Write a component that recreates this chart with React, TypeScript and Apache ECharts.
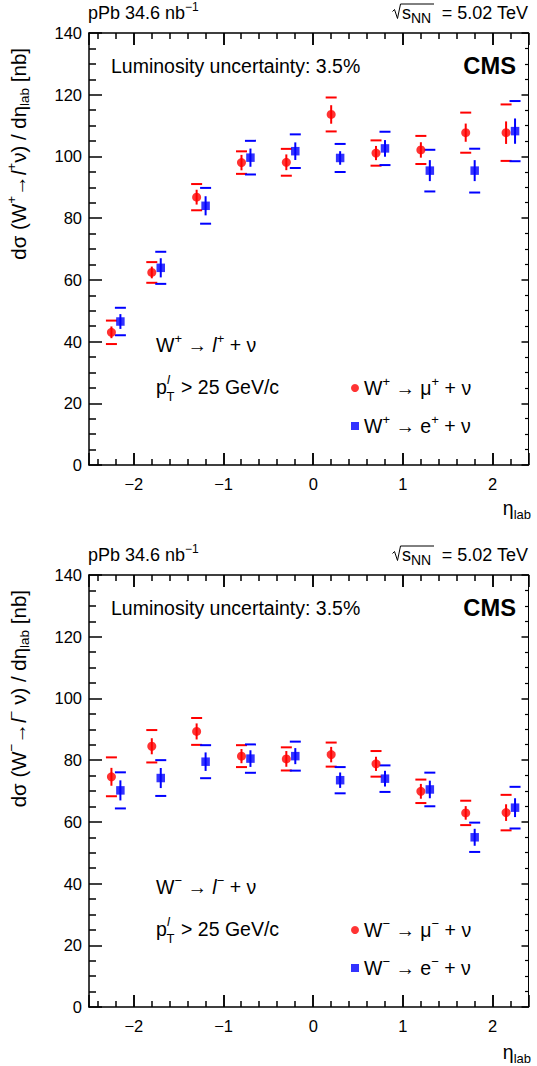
import React, { useEffect, useRef, useState } from "react";
import * as echarts from "echarts";

const FONT = "'Liberation Sans', Arial, Helvetica, sans-serif";
const RED = "#ff0000";
const BLUE = "#0000ff";

// axis ranges and tick positions
const etaMin = -2.5;
const etaMax = 2.4;
const yMin = 0;
const yMax = 140;
const xMajorTicks = [-2, -1, 0, 1, 2];
const xMinorTicks = [-2.4, -2.2, -1.8, -1.6, -1.4, -1.2, -0.8, -0.6, -0.4, -0.2, 0.2, 0.4, 0.6, 0.8, 1.2, 1.4, 1.6, 1.8, 2.2];

// eta positions of the points (muon shifted left, electron shifted right)
const muEta = [-2.25, -1.8, -1.3, -0.8, -0.3, 0.2, 0.7, 1.2, 1.7, 2.15];
const eEta = [-2.15, -1.7, -1.2, -0.7, -0.2, 0.3, 0.8, 1.3, 1.8, 2.25];

// W+ panel
const wpMuVal = [43.0, 62.4, 86.8, 98.0, 98.1, 113.6, 101.1, 102.1, 107.7, 107.7];
const wpMuStat = [1.9, 1.9, 2.4, 2.5, 2.55, 3.0, 2.3, 2.5, 2.95, 3.65];
const wpMuSys = [3.8, 3.35, 4.25, 3.65, 4.35, 5.5, 4.1, 4.55, 6.5, 9.15];
const wpEVal = [46.5, 63.9, 84.0, 99.6, 101.7, 99.5, 102.6, 95.4, 95.4, 108.2];
const wpEStat = [2.4, 3.1, 3.1, 2.95, 2.85, 2.2, 2.7, 3.4, 3.4, 4.1];
const wpESys = [4.45, 5.2, 5.8, 5.45, 5.45, 4.55, 5.4, 6.75, 7.1, 9.75];

// W- panel
const wmMuVal = [74.6, 84.5, 89.3, 81.3, 80.4, 81.8, 78.8, 69.9, 62.9, 63.0];
const wmMuStat = [2.9, 2.6, 2.6, 2.3, 2.55, 2.5, 2.3, 2.4, 2.2, 2.7];
const wmMuSys = [6.3, 5.25, 4.35, 3.55, 3.75, 3.9, 4.15, 3.8, 3.95, 5.75];
const wmEVal = [70.2, 74.2, 79.5, 80.5, 81.3, 73.5, 74.0, 70.5, 55.0, 64.6];
const wmEStat = [3.25, 3.25, 3.0, 2.7, 2.6, 2.5, 2.55, 2.85, 2.75, 3.05];
const wmESys = [5.85, 5.8, 5.35, 4.6, 4.7, 4.25, 4.3, 5.45, 4.75, 6.75];

const nameMuPlus = "W⁺ → μ⁺ + ν";
const nameEPlus = "W⁺ → e⁺ + ν";
const nameMuMinus = "W⁻ → μ⁻ + ν";
const nameEMinus = "W⁻ → e⁻ + ν";

const legendRichText: Record<string, string> = {
  [nameMuPlus]: "{t|W}{sup|+}{t| → μ}{sup|+}{t| + ν}",
  [nameEPlus]: "{t|W}{sup|+}{t| → e}{sup|+}{t| + ν}",
  [nameMuMinus]: "{t|W}{sup|−}{t| → μ}{sup|−}{t| + ν}",
  [nameEMinus]: "{t|W}{sup|−}{t| → e}{sup|−}{t| + ν}",
};

const R: any = {
  h: { fontSize: 18, fontFamily: FONT, color: "#000", lineHeight: 24 },
  hs: { fontSize: 12, fontFamily: FONT, color: "#000", verticalAlign: "top", lineHeight: 13 },
  hsub: { fontSize: 14, fontFamily: FONT, color: "#000", verticalAlign: "bottom", lineHeight: 14 },
  t: { fontSize: 19.5, fontFamily: FONT, color: "#000", lineHeight: 26 },
  ti: { fontSize: 19.5, fontFamily: FONT, fontStyle: "italic", color: "#000", lineHeight: 26 },
  sup: { fontSize: 13, fontFamily: FONT, color: "#000", verticalAlign: "top", lineHeight: 14 },
  sub: { fontSize: 13, fontFamily: FONT, color: "#000", verticalAlign: "bottom", lineHeight: 14 },
  yt: { fontSize: 20.5, fontFamily: FONT, color: "#000", lineHeight: 27 },
  yti: { fontSize: 20.5, fontFamily: FONT, fontStyle: "italic", color: "#000", lineHeight: 27 },
  ysup: { fontSize: 13.5, fontFamily: FONT, color: "#000", verticalAlign: "top", lineHeight: 14 },
  ysub: { fontSize: 13.5, fontFamily: FONT, color: "#000", verticalAlign: "bottom", lineHeight: 14 },
  cms: { fontSize: 23.7, fontFamily: FONT, fontWeight: "bold", color: "#000", lineHeight: 28 },
};

function fmtX(v: number) {
  const r = Math.round(v);
  if (Math.abs(v - r) > 1e-6) return "";
  return r < 0 ? "\u2212" + Math.abs(r) : String(r);
}

function errRender(color: string) {
  return (params: any, api: any) => {
    const x = api.value(0);
    const v = api.value(1);
    const s = api.value(2);
    const y = api.value(3);
    const lo = api.coord([x, v - s]);
    const hi = api.coord([x, v + s]);
    const slo = api.coord([x, v - y]);
    const shi = api.coord([x, v + y]);
    const hw = 5.5;
    const st = { stroke: color, lineWidth: 2 };
    return {
      type: "group",
      children: [
        { type: "line", shape: { x1: lo[0], y1: lo[1], x2: hi[0], y2: hi[1] }, style: st },
        { type: "line", shape: { x1: slo[0] - hw, y1: slo[1], x2: slo[0] + hw, y2: slo[1] }, style: st },
        { type: "line", shape: { x1: shi[0] - hw, y1: shi[1], x2: shi[0] + hw, y2: shi[1] }, style: st },
      ],
    };
  };
}

const panels = [
  {
    top: 33, height: 432, muVal: wpMuVal, muStat: wpMuStat, muSys: wpMuSys,
    eVal: wpEVal, eStat: wpEStat, eSys: wpESys, muName: nameMuPlus, eName: nameEPlus,
    sign: "+", legendTop: 375,
  },
  {
    top: 575, height: 432, muVal: wmMuVal, muStat: wmMuStat, muSys: wmMuSys,
    eVal: wmEVal, eStat: wmEStat, eSys: wmESys, muName: nameMuMinus, eName: nameEMinus,
    sign: "−", legendTop: 917,
  },
];

function buildGraphicTexts() {
  const graphic: any[] = [];
  panels.forEach((P, p) => {
    const dy = P.top - 33;
    const s = P.sign;
    graphic.push(
      { type: "text", x: 88, y: 13 + dy, style: { text: "{h|pPb 34.6 nb}{hs|−1}", rich: R, align: "left", verticalAlign: "middle" } },
      { type: "polyline", shape: { points: [[392.5, 11.5 + dy], [394.5, 9.5 + dy], [397.5, 18.5 + dy], [400.5, 4 + dy], [434, 4 + dy]] }, style: { stroke: "#000", lineWidth: 1, fill: "none" } },
      { type: "text", x: 402, y: 13 + dy, style: { text: "{h|s}{hsub|NN}", rich: R, align: "left", verticalAlign: "middle" } },
      { type: "text", x: 528, y: 13 + dy, style: { text: "{h|= 5.02 TeV}", rich: R, align: "right", verticalAlign: "middle" } },
      { type: "text", x: 111, y: 66 + dy, style: { text: "{t|Luminosity uncertainty: 3.5%}", rich: R, align: "left", verticalAlign: "middle" } },
      { type: "text", x: 516, y: 66 + dy, style: { text: "{cms|CMS}", rich: R, align: "right", verticalAlign: "middle" } },
      { type: "text", x: 156, y: 345 + dy, style: { text: `{t|W}{sup|${s}}{t| → }{ti|l}{sup|${s}}{t| + ν}`, rich: R, align: "left", verticalAlign: "middle" } },
      { type: "text", x: 156, y: 387 + dy, style: { text: "{t|p}", rich: R, align: "left", verticalAlign: "middle" } },
      { type: "text", x: 167, y: 379 + dy, style: { text: "l", fontSize: 13, fontStyle: "italic", fontFamily: FONT, fill: "#000", align: "left", verticalAlign: "middle" } },
      { type: "text", x: 166.5, y: 396 + dy, style: { text: "T", fontSize: 13, fontFamily: FONT, fill: "#000", align: "left", verticalAlign: "middle" } },
      { type: "text", x: 181, y: 387 + dy, style: { text: "{t|> 25 GeV/c}", rich: R, align: "left", verticalAlign: "middle" } },
      { type: "text", x: 531, y: (p === 0 ? 508 : 1052), style: { text: "{t|η}{sub|lab}", rich: R, align: "right", verticalAlign: "middle" } },
      {
        type: "text", x: 18, y: 48 + dy, rotation: Math.PI / 2,
        style: {
          text: `{yt|dσ (W}{ysup|${s}}{yt|→}{yti|l}{ysup|${s}}{yt|${p === 0 ? "" : " "}ν) / dη}{ysub|lab}{yt| [nb]}`,
          rich: R, align: "right", verticalAlign: "middle",
        },
      }
    );
  });
  return graphic;
}

function buildOption() {
  const grid: any[] = [];
  const xAxis: any[] = [];
  const yAxis: any[] = [];
  const series: any[] = [];
  const legend: any[] = [];

  panels.forEach((P, p) => {
    grid.push({ left: 89, top: P.top, width: 439.5, height: P.height });
    xAxis.push({
      type: "value", gridIndex: p, min: etaMin, max: etaMax, splitNumber: 5, position: "bottom",
      axisLine: { show: true, onZero: false, lineStyle: { color: "#000", width: 1.5 } },
      axisTick: { show: true, inside: true, length: 12, lineStyle: { color: "#000", width: 1.5 } },
      splitLine: { show: false },
      axisLabel: { formatter: fmtX, margin: 10, fontSize: 16.5, color: "#000" },
    });
    xAxis.push({
      type: "value", gridIndex: p, min: etaMin, max: etaMax, splitNumber: 5, position: "top",
      axisLine: { show: true, onZero: false, lineStyle: { color: "#000", width: 1.5 } },
      axisTick: { show: true, inside: true, length: 12, lineStyle: { color: "#000", width: 1.5 } },
      splitLine: { show: false }, axisLabel: { show: false },
    });
    yAxis.push({
      type: "value", gridIndex: p, min: yMin, max: yMax, interval: 20, position: "left",
      axisLine: { show: true, onZero: false, lineStyle: { color: "#000", width: 1.5 } },
      axisTick: { show: true, inside: true, length: 13, lineStyle: { color: "#000", width: 1.5 } },
      minorTick: { show: true, splitNumber: 4, length: 7, lineStyle: { color: "#000", width: 1.5 } },
      splitLine: { show: false },
      axisLabel: { margin: 7, fontSize: 16.5, fontFamily: FONT, color: "#000" },
    });
    yAxis.push({
      type: "value", gridIndex: p, min: yMin, max: yMax, interval: 20, position: "right",
      axisLine: { show: true, onZero: false, lineStyle: { color: "#000", width: 1 } },
      axisTick: { show: true, inside: true, length: 7, lineStyle: { color: "#000", width: 1.5 } },
      minorTick: { show: true, splitNumber: 4, length: 3.5, lineStyle: { color: "#000", width: 1.2 } },
      splitLine: { show: false }, axisLabel: { show: false },
    });
    const xi = 2 * p;
    const yi = 2 * p;
    series.push({
      type: "custom", name: "errMu" + p, xAxisIndex: xi, yAxisIndex: yi,
      renderItem: errRender(RED),
      data: muEta.map((x, i) => [x, P.muVal[i], P.muStat[i], P.muSys[i]]),
      z: 2,
    });
    series.push({
      type: "custom", name: "errE" + p, xAxisIndex: xi, yAxisIndex: yi,
      renderItem: errRender(BLUE),
      data: eEta.map((x, i) => [x, P.eVal[i], P.eStat[i], P.eSys[i]]),
      z: 2,
    });
    series.push({
      type: "scatter", name: P.muName, xAxisIndex: xi, yAxisIndex: yi,
      symbol: "circle", symbolSize: 9, itemStyle: { color: RED },
      data: muEta.map((x, i) => [x, P.muVal[i]]), z: 3,
    });
    series.push({
      type: "scatter", name: P.eName, xAxisIndex: xi, yAxisIndex: yi,
      symbol: "rect", symbolSize: 8.5, itemStyle: { color: BLUE },
      data: eEta.map((x, i) => [x, P.eVal[i]]), z: 3,
    });
    legend.push({
      data: [P.muName, P.eName], left: 351, top: P.legendTop, orient: "vertical",
      itemGap: 15, itemWidth: 8, itemHeight: 8, padding: 0, selectedMode: false,
      formatter: (n: string) => legendRichText[n],
      textStyle: { rich: R },
    });
  });

  return {
    animation: false,
    grid, xAxis, yAxis, series, legend,
  };
}

export default function App() {
  const ref = useRef<HTMLDivElement>(null);
  const [err, setErr] = useState("");
  useEffect(() => {
    document.body.style.margin = "0";
    const chart = echarts.init(ref.current!, null, { renderer: "svg" });
    const errs: string[] = [];
    try {
      chart.setOption(buildOption() as any);
    } catch (e: any) {
      errs.push("A:" + String(e && e.message ? e.message : e));
    }
    const texts = buildGraphicTexts();
    const tickEls: any[] = [];
    try {
      panels.forEach((P, p) => {
        const yb = P.top + P.height;
        const yt = P.top;
        const add = (v: number, len: number) => {
          const raw = chart.convertToPixel({ xAxisIndex: 2 * p } as any, v) as any;
          const px = Math.round(Number(raw));
          if (!isFinite(px)) return;
          const st = { stroke: "#000", lineWidth: 1.5 };
          tickEls.push({ type: "line", shape: { x1: px, y1: yb, x2: px, y2: yb - len }, style: st });
          tickEls.push({ type: "line", shape: { x1: px, y1: yt, x2: px, y2: yt + len }, style: st });
        };
        xMajorTicks.forEach((v) => add(v, 12));
        xMinorTicks.forEach((v) => add(v, 6));
      });
    } catch (e: any) {
      errs.push("B:" + String(e && e.message ? e.message : e));
    }
    try {
      chart.setOption({ graphic: { elements: texts.concat(tickEls) } } as any);
    } catch (e: any) {
      errs.push("C:" + String(e && e.message ? e.message : e));
    }
    if (errs.length) setErr(errs.join(" | "));
    return () => chart.dispose();
  }, []);
  return (
    <>
      <div
        ref={ref}
        style={{ position: "absolute", left: 0, top: 0, width: 537, height: 1066, background: "#fff" }}
      />
      {err ? (
        <div style={{ position: "absolute", left: 4, top: 522, fontSize: 9, color: "#888", fontFamily: "sans-serif" }}>{err}</div>
      ) : null}
    </>
  );
}
